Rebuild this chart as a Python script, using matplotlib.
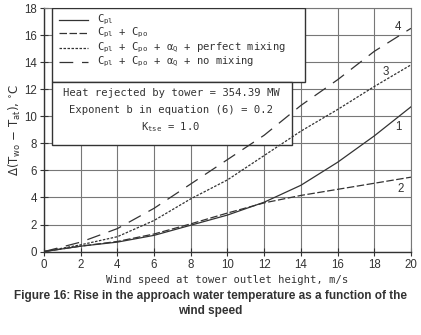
import numpy as np
import matplotlib
matplotlib.use('Agg')
from matplotlib import pyplot as plt
from matplotlib.patches import Rectangle

plt.rcParams['mathtext.default'] = 'regular'

# wind speed, m/s
wind = [0, 2, 4, 6, 8, 10, 12, 14, 16, 18, 20]
# curve 1: C_pl
c_pl = [0, 0.4, 0.7, 1.2, 1.95, 2.7, 3.65, 4.9, 6.6, 8.55, 10.7]
# curve 2: C_pl + C_po
c_pl_po = [0, 0.4, 0.75, 1.3, 2.05, 2.85, 3.6, 4.15, 4.6, 5.05, 5.5]
# curve 3: + alpha_Q, perfect mixing
perfect_mix = [0, 0.5, 1.1, 2.3, 3.9, 5.3, 7.1, 8.9, 10.5, 12.2, 13.8]
# curve 4: + alpha_Q, no mixing
no_mix = [0, 0.7, 1.7, 3.2, 5.0, 6.8, 8.6, 10.8, 12.7, 14.8, 16.5]

curve_ids = ['1', '2', '3', '4']
legend_labels = [r'C$_{pl}$',
                 r'C$_{pl}$ + C$_{po}$',
                 r'C$_{pl}$ + C$_{po}$ + $\alpha_{Q}$ + perfect mixing',
                 r'C$_{pl}$ + C$_{po}$ + $\alpha_{Q}$ + no mixing']
info_lines = ['Heat rejected by tower = 354.39 MW',
              'Exponent b in equation (6) = 0.2',
              r'K$_{tse}$ = 1.0']

ink = '#333333'
mono = 'DejaVu Sans Mono'
styles = ['-', (0, (6, 2)), (0, (2, 1.2)), (0, (11, 7))]
series = [c_pl, c_pl_po, perfect_mix, no_mix]

fig = plt.figure(figsize=(4.21, 3.35), dpi=100)
ax = fig.add_axes([0.1045, 0.249, 0.8717, 0.727])

for s, ls in zip(series, styles):
    ax.plot(wind, s, color=ink, lw=0.9, ls=ls, zorder=5)

ax.set_xlim(0, 20)
ax.set_ylim(0, 18)
ax.set_xticks(np.arange(0, 21, 2))
ax.set_yticks(np.arange(0, 19, 2))
ax.grid(True, color='#777777', lw=0.8, zorder=0)
ax.set_axisbelow(True)
ax.tick_params(direction='inout', length=6, width=0.8, color=ink, labelcolor=ink,
               labelsize=8.3, pad=2)
for lab in ax.get_xticklabels() + ax.get_yticklabels():
    lab.set_family('Liberation Sans')
for side in ['left', 'bottom']:
    ax.spines[side].set_color(ink)
    ax.spines[side].set_linewidth(1.0)
for side in ['right', 'top']:
    ax.spines[side].set_color('#777777')
    ax.spines[side].set_linewidth(0.8)

ax.set_xlabel('Wind speed at tower outlet height, m/s', family=mono, fontsize=7.6,
              color=ink, labelpad=3)
ax.set_ylabel(r'$\Delta$(T$_{wo}$ $-$ T$_{at}$), $^{\circ}$C', family='DejaVu Sans',
              fontsize=8.5, color=ink, labelpad=1)

# legend box and info box
ax.add_patch(Rectangle((0.022, 0.697), 0.688, 0.303, transform=ax.transAxes,
                       facecolor='white', edgecolor=ink, lw=1.0, zorder=3))
ax.add_patch(Rectangle((0.022, 0.439), 0.653, 0.258, transform=ax.transAxes,
                       facecolor='white', edgecolor=ink, lw=1.0, zorder=3))

rows = [0.951, 0.897, 0.836, 0.778]
for y, ls, lab in zip(rows, styles, legend_labels):
    ax.plot([0.041, 0.120], [y, y], transform=ax.transAxes, color=ink, lw=0.9,
            ls=ls, zorder=6)
    ax.text(0.144, y, lab, transform=ax.transAxes, family=mono, fontsize=7.6,
            color=ink, va='center', ha='left', zorder=6)

for y, t in zip([0.651, 0.581, 0.511], info_lines):
    ax.text(0.346, y, t, transform=ax.transAxes, family=mono, fontsize=7.6,
            color=ink, va='center', ha='center', zorder=6)

# curve numbers, placed beside the line ends
label_pos = [(19.3, 9.2), (19.45, 4.6), (18.65, 13.3), (19.3, 16.6)]
for lab, (lx, ly) in zip(curve_ids, label_pos):
    ax.text(lx, ly, lab, family='Liberation Sans', fontsize=8.3, color=ink,
            ha='center', va='center', zorder=6)

fig.text(0.5, 0.115, 'Figure 16: Rise in the approach water temperature as a function of the',
         ha='center', va='center', family='Liberation Sans', weight='bold', fontsize=8.5,
         color=ink)
fig.text(0.5, 0.072, 'wind speed', ha='center', va='center', family='Liberation Sans',
         weight='bold', fontsize=8.5, color=ink)

fig.savefig('out.png', dpi=100)
